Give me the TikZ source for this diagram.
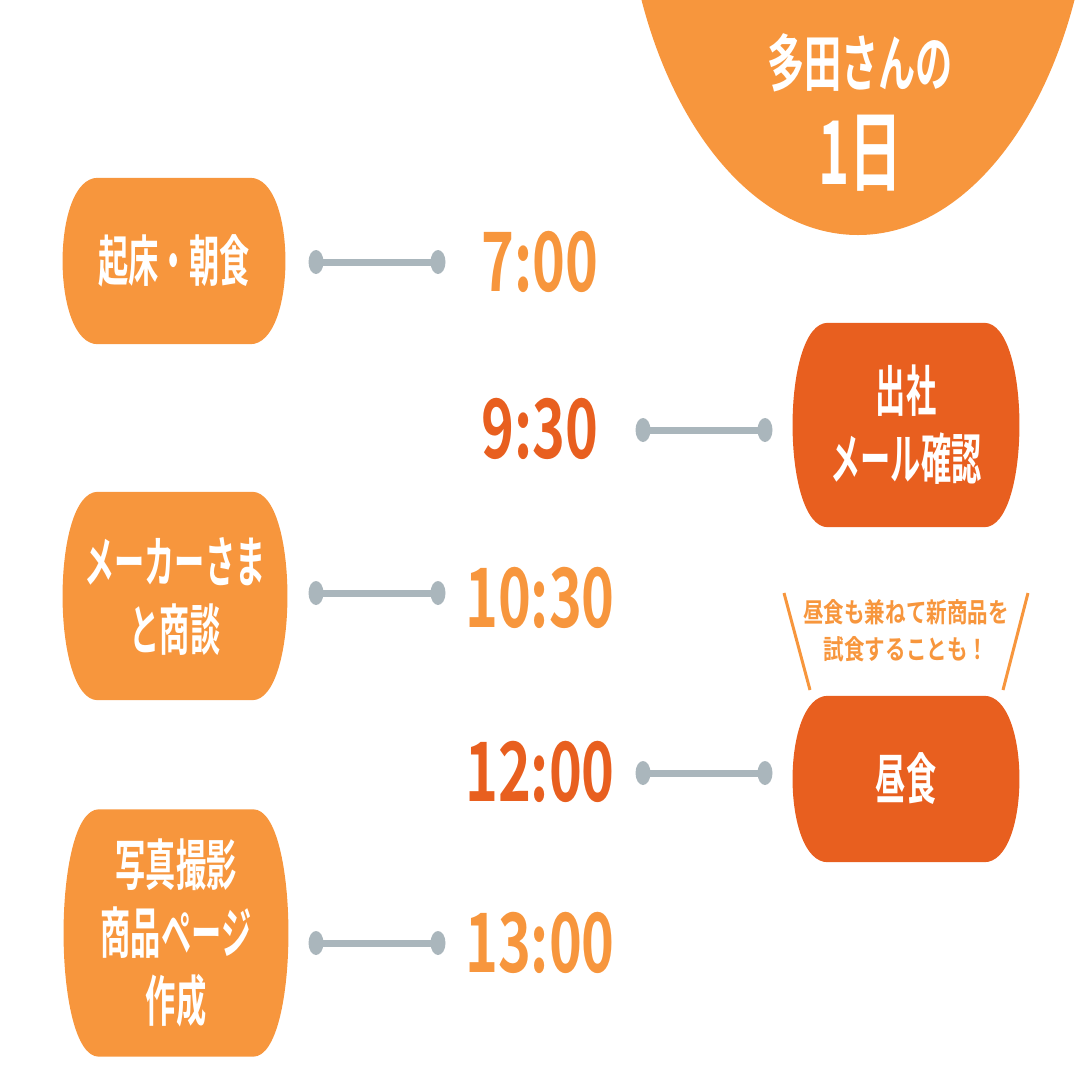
\documentclass[tikz,border=0pt]{standalone}
\usepackage{fontspec}
\newfontfamily\jp[FakeStretch=0.55]{Noto Sans CJK JP Bold}
\newfontfamily\jpttl[FakeStretch=0.6]{Noto Sans CJK JP Bold}
\newfontfamily\jpt[FakeStretch=0.68]{Noto Sans CJK JP Bold}
\newfontfamily\jpn[FakeStretch=0.76]{Noto Sans CJK JP Bold}
\usetikzlibrary{backgrounds,shapes.geometric}
\definecolor{lor}{HTML}{F7963D}
\definecolor{dor}{HTML}{E85F1F}
\definecolor{gcon}{HTML}{AAB6BC}
\newcommand\blob[2]{%
  \fill[#2] ([xshift=35pt]#1.north west) -- ([xshift=-35pt]#1.north east)
    .. controls ([xshift=12pt]#1.north east) and ([xshift=12pt]#1.south east) .. ([xshift=-35pt]#1.south east)
    -- ([xshift=35pt]#1.south west)
    .. controls ([xshift=-12pt]#1.south west) and ([xshift=-12pt]#1.north west) .. ([xshift=35pt]#1.north west) -- cycle;}
\tikzset{
  box/.style={inner sep=0pt, text=white, align=center, font=\jp\fontsize{55}{68}\selectfont},
  tm/.style={inner sep=0pt, font=\jpt\fontsize{82}{82}\selectfont},
  dotn/.style={ellipse, fill=gcon, minimum width=15, minimum height=24, inner sep=0pt},
  conn/.style={draw=gcon, line width=7pt},
  notetxt/.style={inner sep=0pt, text=lor, align=center, font=\jpn\fontsize{27}{37}\selectfont},
  noteline/.style={draw=lor, line width=3pt}
}
\begin{document}
\begin{tikzpicture}[x=1pt,y=-1pt]
\useasboundingbox (0,0) rectangle (1080,1080);
\clip (0,0) rectangle (1080,1080);
% title shape
\fill[lor] (858,-150) ellipse [x radius=235, y radius=385];
\node[inner sep=0pt, text=white, font=\jpttl\fontsize{62}{62}\selectfont] (ttl) at (860,63) {多田さんの};
\node[inner sep=0pt, text=white, font=\jpttl\fontsize{88}{88}\selectfont] (ttl2) at (860,153) {1日};
% boxes
\node[box, minimum width=222, minimum height=166] (b1) at (174,261) {起床・朝食};
\node[box, minimum width=224, minimum height=208] (b2) at (175,596) {メーカーさま\\と商談};
\node[box, minimum width=224, minimum height=247] (b3) at (176,933) {写真撮影\\商品ページ\\作成};
\node[box, minimum width=226, minimum height=204] (b4) at (906,425) {出社\\メール確認};
\node[box, minimum width=226, minimum height=166] (b5) at (906,779) {昼食};
\begin{scope}[on background layer]
\blob{b1}{lor}
\blob{b2}{lor}
\blob{b3}{lor}
\blob{b4}{dor}
\blob{b5}{dor}
\end{scope}
% times
\node[tm, text=lor] (t1) at (540,262) {7:00};
\node[tm, text=dor] (t2) at (540,429) {9:30};
\node[tm, text=lor] (t3) at (540,598) {10:30};
\node[tm, text=dor] (t4) at (540,772) {12:00};
\node[tm, text=lor] (t5) at (540,943) {13:00};
% connectors
\node[dotn] (d1a) at (316,262) {};
\node[dotn] (d1b) at (438,262) {};
\node[dotn] (d2a) at (643,430) {};
\node[dotn] (d2b) at (765,430) {};
\node[dotn] (d3a) at (316,593) {};
\node[dotn] (d3b) at (438,593) {};
\node[dotn] (d4a) at (643,773) {};
\node[dotn] (d4b) at (765,773) {};
\node[dotn] (d5a) at (316,943) {};
\node[dotn] (d5b) at (438,943) {};
\draw[conn] (d1a.center) -- (d1b.center);
\draw[conn] (d2a.center) -- (d2b.center);
\draw[conn] (d3a.center) -- (d3b.center);
\draw[conn] (d4a.center) -- (d4b.center);
\draw[conn] (d5a.center) -- (d5b.center);
% note
\node[notetxt] (note) at (906,631) {昼食も兼ねて新商品を\\試食することも！};
\coordinate (nl1) at (784,593);
\coordinate (nl2) at (810,690);
\coordinate (nr1) at (1028,593);
\coordinate (nr2) at (1003,690);
\draw[noteline] (nl1) -- (nl2);
\draw[noteline] (nr1) -- (nr2);
\end{tikzpicture}
\end{document}
